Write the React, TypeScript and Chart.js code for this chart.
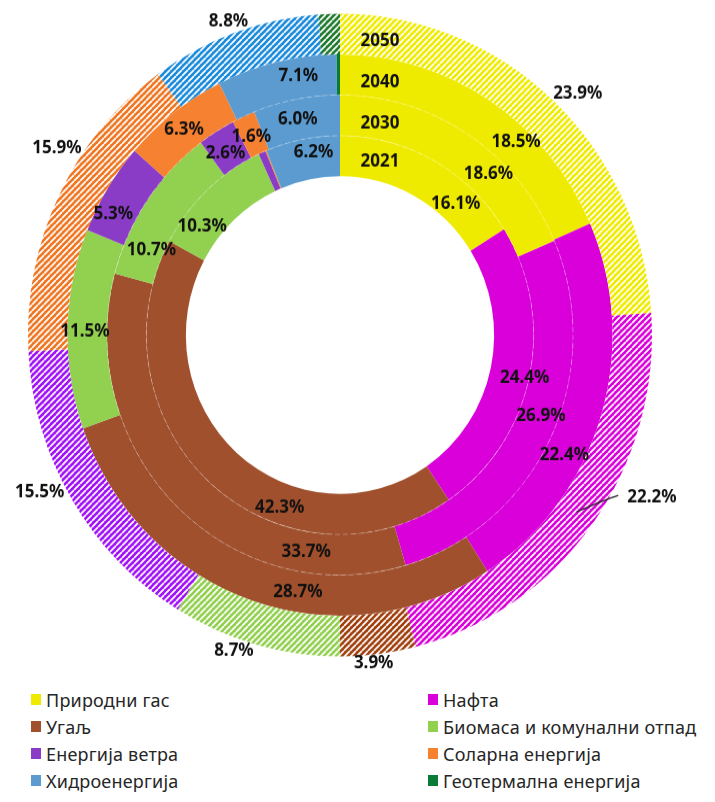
import React, { useEffect, useRef } from 'react';
import { Chart, registerables } from 'chart.js';

Chart.register(...registerables);

// ---- data ----
const CATEGORIES = [
  'Природни гас',
  'Нафта',
  'Угаљ',
  'Биомаса и комунални отпад',
  'Енергија ветра',
  'Соларна енергија',
  'Хидроенергија',
  'Геотермална енергија',
];

// rings from outside to inside
const YEARS = ['2050', '2040', '2030', '2021'];

const SHARE_2050 = [23.9, 22.2, 3.9, 8.7, 15.5, 15.9, 8.8, 1.1];
const SHARE_2040 = [18.5, 22.4, 28.7, 11.5, 5.3, 6.3, 7.1, 0.2];
const SHARE_2030 = [18.6, 26.9, 33.7, 10.7, 2.6, 1.6, 6.0, 0];
const SHARE_2021 = [16.1, 24.4, 42.3, 10.3, 0.6, 0.1, 6.2, 0];

// ---- styles ----
const COLORS = ['#EFEB00', '#D900D9', '#A0502D', '#92D050', '#8A3CC6', '#F58131', '#5B9BD0', '#0A7A38'];
const HATCH_COLORS = ['#EFEB00', '#D900D9', '#A0400F', '#92D050', '#A012F5', '#EE7622', '#1A8ADB', '#1F7A2E'];

const LABEL_FONT = 'bold 17px "Noto Sans"';
const LABEL_COLOR = '#111111';
const LABEL_MIN = 1.5;

// label placement inside rings: [fraction along the arc, fraction across the ring]
const INNER_PLACEMENT: Record<string, (number[] | null)[]> = {
  '2040': [[0.65, 0.6], [0.63, 0.5], [0.41, 0.5], [0.49, 0.56], [0.28, 0.56], [0.48, 0.5], [0.66, 0.55], null],
  '2030': [[0.65, 0.56], [0.46, 0.56], [0.21, 0.51], [0.23, 0.31], [0.4, 0.43], [0.45, 0.46], [0.47, 0.5], null],
  '2021': [[0.73, 0.45], [0.51, 0.89], [0.355, 0.6], [0.25, 0.49], null, null, [0.62, 0.65], null],
};
// outer ring labels: fraction along the arc (placed just outside)
const OUTER_PLACEMENT = [0.528, 0.5, 0.57, 0.61, 0.57, 0.62, 0.49, 0.5];

// outer label with leader line (Нафта 2050)
const CALLOUT = { index: 1, angleDeg: 116.8, radiusFactor: 1.12 };

const CANVAS_W = 699;
const CANVAS_H = 660;
const STRETCH_Y = 1.03;

function makeHatch(ctx: CanvasRenderingContext2D, color: string): CanvasPattern | string {
  const s = 6;
  const c = document.createElement('canvas');
  c.width = s;
  c.height = s;
  const g = c.getContext('2d');
  if (!g) return color;
  g.fillStyle = color;
  g.fillRect(0, 0, s, s);
  g.strokeStyle = '#ffffff';
  g.lineWidth = 1.7;
  g.beginPath();
  for (const k of [-s, 0, s]) {
    g.moveTo(k, s);
    g.lineTo(k + s, 0);
  }
  g.stroke();
  return ctx.createPattern(c, 'repeat') || color;
}

const ringLabelsPlugin = {
  id: 'ringLabels',
  afterDatasetsDraw(chart: any) {
    const ctx: CanvasRenderingContext2D = chart.ctx;
    const metas = chart.data.datasets.map((_: any, i: number) => chart.getDatasetMeta(i));
    const first = metas[0].data[0];
    const cx = first.x;
    const cy = first.y;
    ctx.save();

    // faint dashed separators between inner rings
    ctx.setLineDash([5, 3]);
    ctx.strokeStyle = 'rgba(255,255,255,0.3)';
    ctx.lineWidth = 1;
    for (let i = 2; i < metas.length; i++) {
      const r = metas[i].data[0].outerRadius;
      ctx.beginPath();
      ctx.arc(cx, cy, r, 0, Math.PI * 2);
      ctx.stroke();
    }
    ctx.setLineDash([]);

    ctx.font = LABEL_FONT;
    ctx.fillStyle = LABEL_COLOR;
    ctx.textAlign = 'center';
    ctx.textBaseline = 'middle';

    metas.forEach((meta: any, ri: number) => {
      const values: number[] = chart.data.datasets[ri].data;
      const year = YEARS[ri];
      meta.data.forEach((arc: any, j: number) => {
        const v = values[j];
        if (v < LABEL_MIN) return;
        const p = arc.getProps(['startAngle', 'endAngle', 'innerRadius', 'outerRadius'], true);
        const text = v.toFixed(1) + '%';
        if (ri === 0) {
          const w = ctx.measureText(text).width;
          const h = 12;
          const mid = (p.startAngle + p.endAngle) / 2;
          if (j === CALLOUT.index) {
            const a = ((CALLOUT.angleDeg - 90) * Math.PI) / 180;
            const d = p.outerRadius * CALLOUT.radiusFactor;
            const lx = cx + Math.cos(a) * d;
            const ly = cy + Math.sin(a) * d;
            const rMid = (p.innerRadius + p.outerRadius) / 2;
            ctx.strokeStyle = '#222222';
            ctx.lineWidth = 1.2;
            ctx.beginPath();
            ctx.moveTo(cx + Math.cos(mid) * rMid, cy + Math.sin(mid) * rMid);
            ctx.quadraticCurveTo(lx - w / 2 - 22, ly + 2, lx - w / 2 - 9, ly - 2);
            ctx.stroke();
            ctx.fillText(text, lx, ly);
          } else {
            const f = OUTER_PLACEMENT[j];
            const a = p.startAngle + f * (p.endAngle - p.startAngle);
            const d = p.outerRadius + Math.abs(Math.cos(a)) * w / 2 + Math.abs(Math.sin(a)) * h / 2;
            ctx.fillText(text, cx + Math.cos(a) * d, cy + Math.sin(a) * d);
          }
        } else {
          const place = (INNER_PLACEMENT[year] && INNER_PLACEMENT[year][j]) || [0.5, 0.5];
          const a = p.startAngle + place[0] * (p.endAngle - p.startAngle);
          const r = p.innerRadius + place[1] * (p.outerRadius - p.innerRadius);
          ctx.fillText(text, cx + Math.cos(a) * r, cy + Math.sin(a) * r);
        }
      });
    });

    // ring (year) labels
    metas.forEach((meta: any, ri: number) => {
      const arc = meta.data[0];
      const rMid = (arc.innerRadius + arc.outerRadius) / 2 - (ri === 3 ? 1 : 4);
      const dx = 40;
      const y = cy - Math.sqrt(rMid * rMid - dx * dx);
      ctx.fillText(YEARS[ri], cx + dx, y);
    });

    ctx.restore();
  },
};

export default function App() {
  const canvasRef = useRef<HTMLCanvasElement | null>(null);

  useEffect(() => {
    const canvas = canvasRef.current;
    if (!canvas) return;
    const ctx = canvas.getContext('2d');
    if (!ctx) return;
    const hatches = HATCH_COLORS.map((c) => makeHatch(ctx, c));
    const series = [SHARE_2050, SHARE_2040, SHARE_2030, SHARE_2021];

    const chart = new Chart(ctx, {
      type: 'doughnut',
      data: {
        labels: CATEGORIES,
        datasets: series.map((vals, i) => ({
          label: YEARS[i],
          data: vals,
          backgroundColor: i === 0 ? hatches : COLORS,
          borderWidth: 0,
        })),
      },
      options: {
        responsive: false,
        animation: false,
        cutout: '49.4%',
        layout: { padding: { left: 20, right: 55, top: 5.5, bottom: 30.5 } },
        plugins: {
          legend: { display: false },
          tooltip: { enabled: false },
        },
      },
      plugins: [ringLabelsPlugin],
    });
    return () => chart.destroy();
  }, []);

  const rows: number[][] = [];
  for (let i = 0; i < CATEGORIES.length; i += 2) rows.push([i, i + 1]);

  return (
    <div style={{ fontFamily: '"Noto Sans", sans-serif' }}>
      <div style={{ width: CANVAS_W, height: CANVAS_H, position: 'relative' }}>
        <div style={{ transform: `scaleY(${STRETCH_Y})`, transformOrigin: '0 0' }}>
          <canvas
            ref={canvasRef}
            width={CANVAS_W}
            height={CANVAS_H}
            style={{ display: 'block', width: CANVAS_W, height: CANVAS_H }}
          />
        </div>
      </div>
      <div style={{ marginTop: 18, paddingLeft: 23 }}>
        {rows.map((pair, ri) => (
          <div key={ri} style={{ display: 'grid', gridTemplateColumns: '397px auto', height: 27 }}>
            {pair.map((ci) => (
              <div
                key={ci}
                style={{
                  display: 'flex',
                  alignItems: 'center',
                  color: '#262626',
                  fontSize: 18,
                  letterSpacing: 0.2,
                  whiteSpace: 'nowrap',
                }}
              >
                <span
                  style={{
                    display: 'inline-block',
                    width: 10,
                    height: 11,
                    background: COLORS[ci],
                    marginRight: 5,
                  }}
                />
                <span>{CATEGORIES[ci]}</span>
              </div>
            ))}
          </div>
        ))}
      </div>
    </div>
  );
}
